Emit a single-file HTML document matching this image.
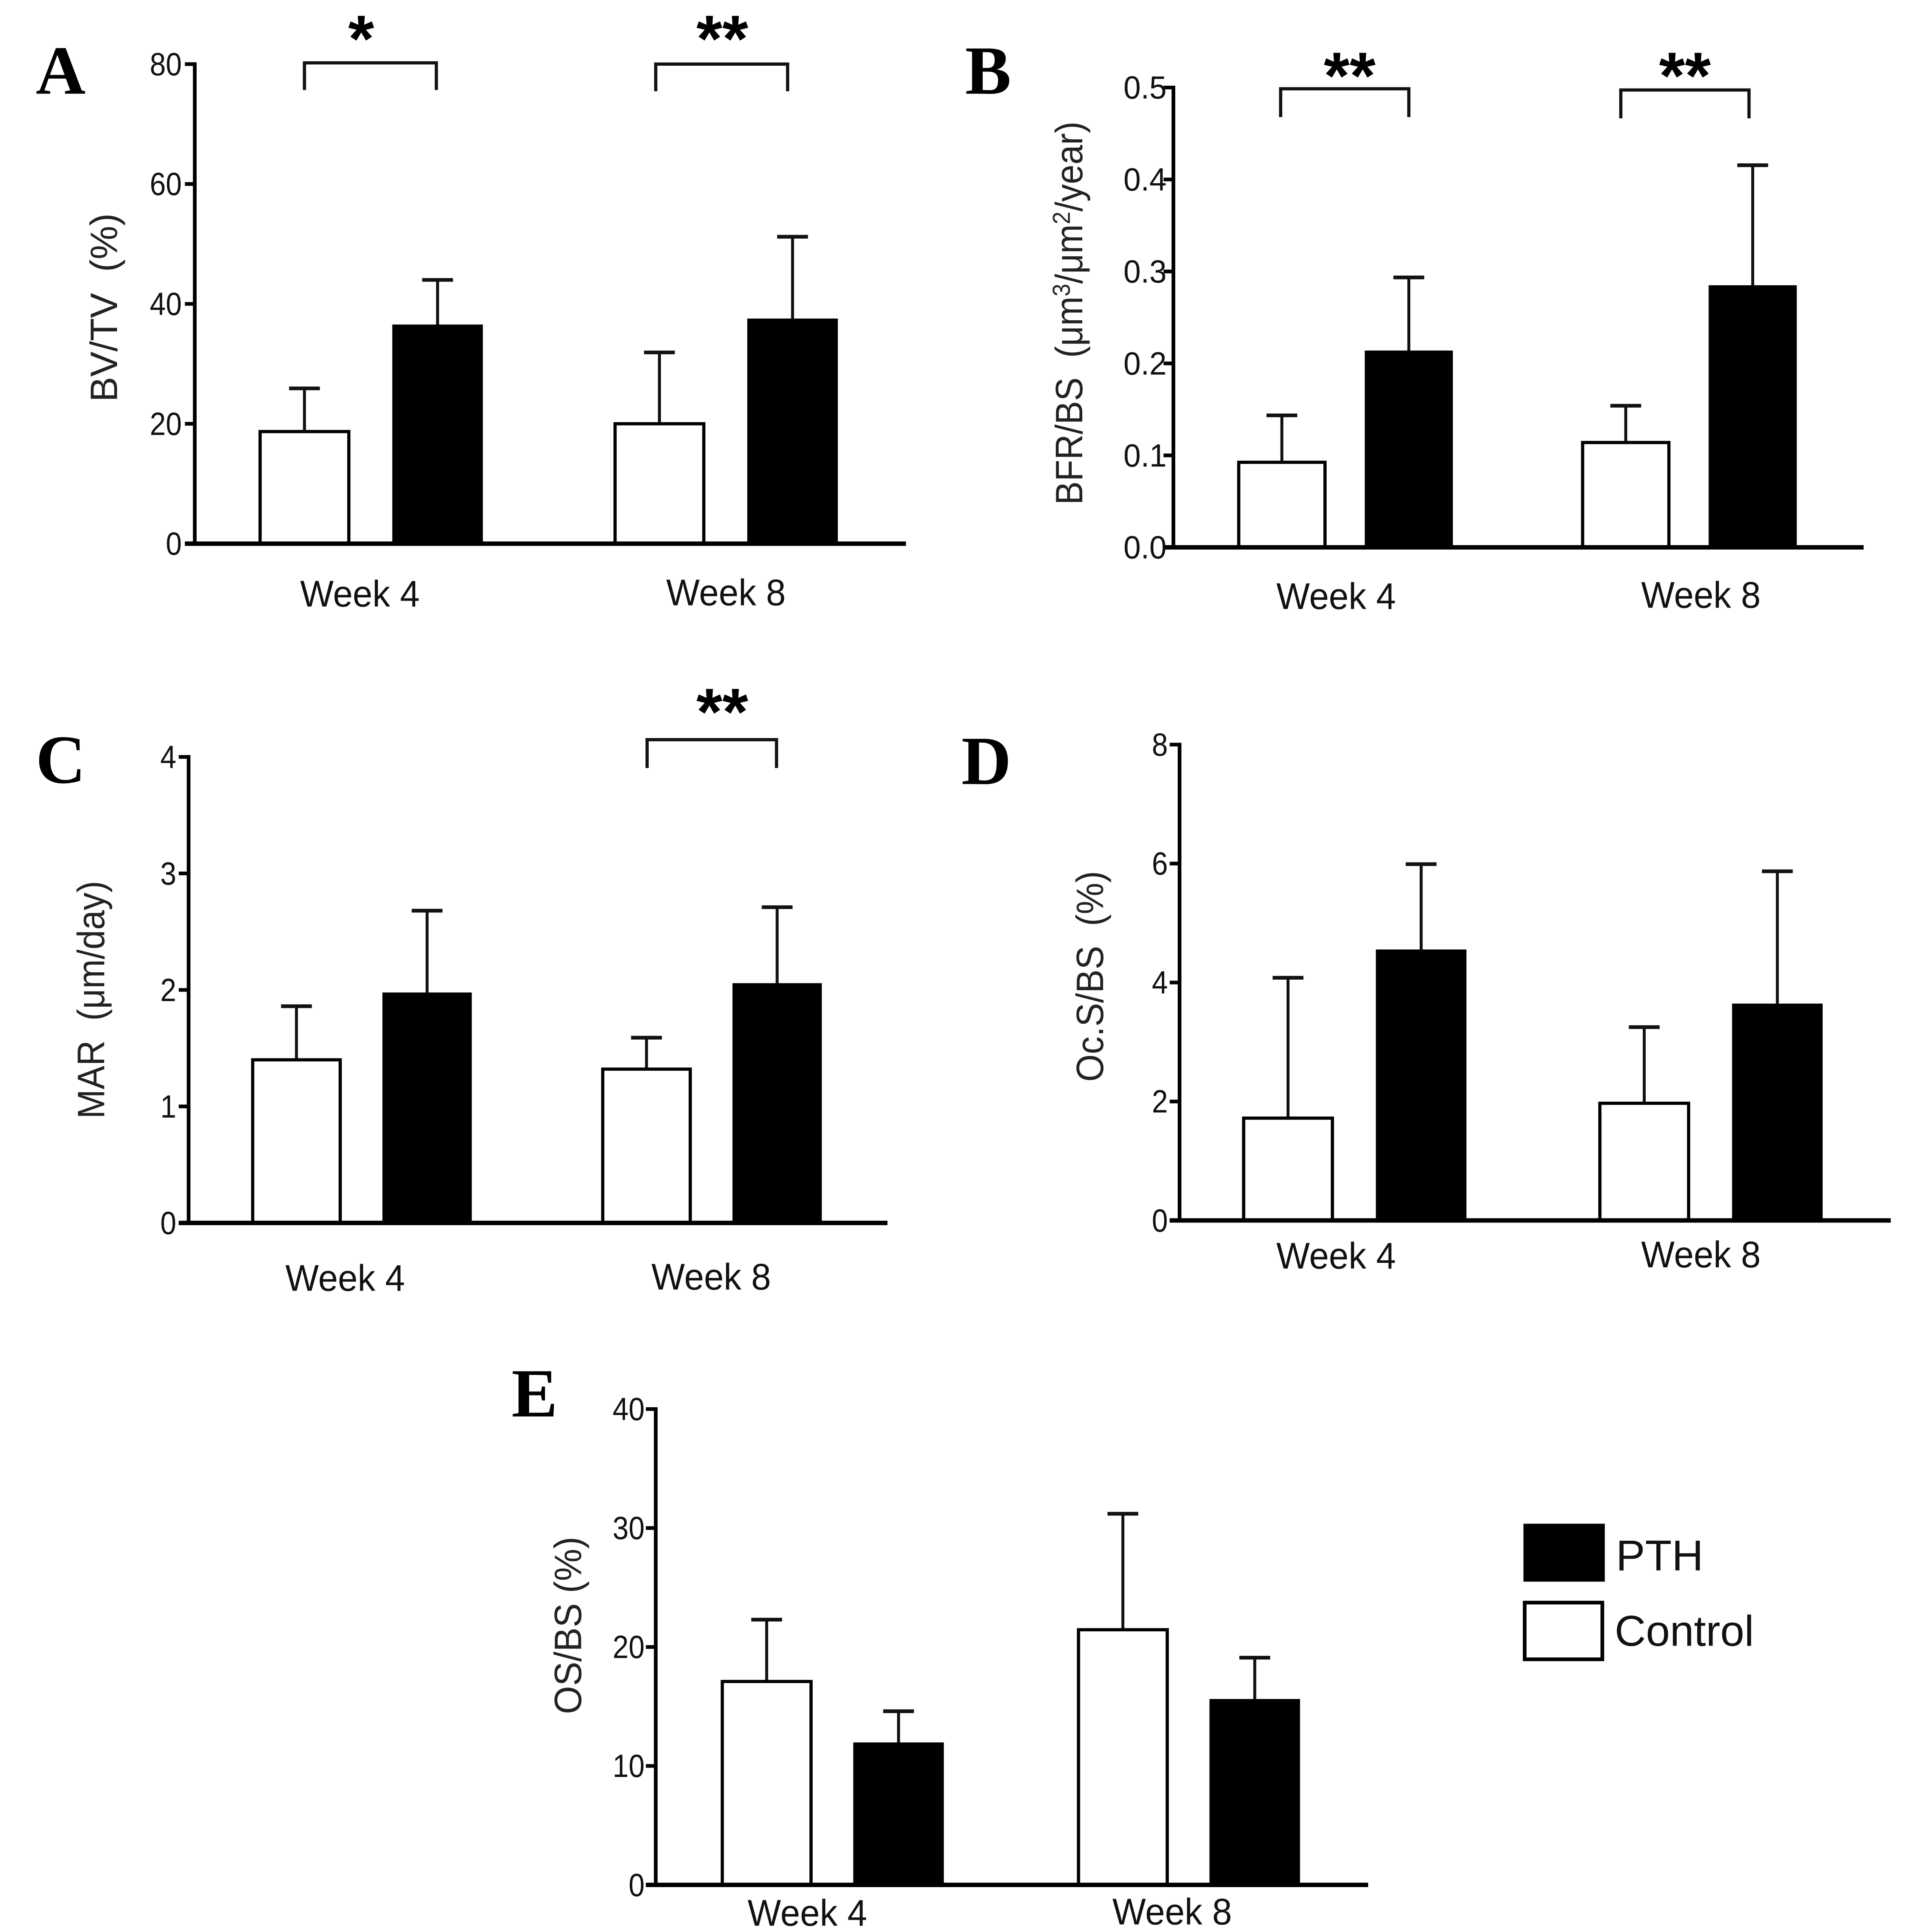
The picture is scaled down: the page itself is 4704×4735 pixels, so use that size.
<!DOCTYPE html>
<html lang="en">
<head>
<meta charset="utf-8">
<title>Bone histomorphometry bar charts</title>
<style>
html,body{margin:0;padding:0;background:#fff;width:4704px;height:4735px;overflow:hidden}
svg{display:block}
text{font-family:"Liberation Sans",sans-serif;fill:#111}
.letter{font-family:"Liberation Serif",serif;font-weight:bold;font-size:56px;fill:#000}
.star{font-size:54px;font-weight:bold;fill:#000;text-anchor:middle}
.title{font-size:31px;text-anchor:middle;fill:#222}
.legend{font-size:35px}
.br{fill:none;stroke:#111;stroke-width:2.6}
</style>
</head>
<body>
<svg id="figure" xmlns="http://www.w3.org/2000/svg" width="4704" height="4735" viewBox="0 0 1556.9 1567.2">
  <rect x="0" y="0" width="1556.9" height="1567.2" fill="#fff"/>

  <text class="letter" x="29" y="76">A</text>
  <text class="letter" x="783" y="76">B</text>
  <text class="letter" x="29" y="635">C</text>
  <text class="letter" x="780" y="636">D</text>
  <text class="letter" x="415" y="1149">E</text>

  <text class="title" transform="translate(95 249.5) rotate(-90)" textLength="153" lengthAdjust="spacingAndGlyphs" xml:space="preserve">BV/TV  (%)</text>
  <text class="title" transform="translate(878 254) rotate(-90)" textLength="311" lengthAdjust="spacingAndGlyphs" xml:space="preserve">BFR/BS  (μm<tspan font-size="20" dy="-10">3</tspan><tspan dy="10">/μm</tspan><tspan font-size="20" dy="-10">2</tspan><tspan dy="10">/year)</tspan></text>
  <text class="title" transform="translate(84.5 811) rotate(-90)" textLength="193" lengthAdjust="spacingAndGlyphs" xml:space="preserve">MAR  (μm/day)</text>
  <text class="title" transform="translate(895 792) rotate(-90)" textLength="171" lengthAdjust="spacingAndGlyphs" xml:space="preserve">Oc.S/BS  (%)</text>
  <text class="title" transform="translate(471.5 1318.5) rotate(-90)" textLength="144" lengthAdjust="spacingAndGlyphs" xml:space="preserve">OS/BS (%)</text>

  <path class="br" d="M247 73V51H354V73"/>
  <path class="br" d="M532 74V52H639V74"/>
  <path class="br" d="M1039 95V72H1143V95"/>
  <path class="br" d="M1315 96V73H1419V96"/>
  <path class="br" d="M525 623V600H630V623"/>

  <text class="star" x="293" y="50">*</text>
  <text class="star" x="586" y="50">**</text>
  <text class="star" x="1095" y="80">**</text>
  <text class="star" x="1367" y="80">**</text>
  <text class="star" x="586" y="596">**</text>

  <g>
    <rect x="1236" y="1236" width="66" height="47" fill="#000"/>
    <text class="legend" x="1311" y="1274" textLength="71" lengthAdjust="spacingAndGlyphs">PTH</text>
    <rect x="1237" y="1300" width="63" height="46" fill="#fff" stroke="#000" stroke-width="3"/>
    <text class="legend" x="1310" y="1335" textLength="113" lengthAdjust="spacingAndGlyphs">Control</text>
  </g>
</svg>

<script>
const categories = ['Week 4', 'Week 8'];

const ticksA = ['0', '20', '40', '60', '80'];
const controlA = [18.7, 20.0];
const pthA = [36.4, 37.4];
const controlErrA = [7.2, 11.9];
const pthErrA = [7.6, 13.8];

const ticksB = ['0.0', '0.1', '0.2', '0.3', '0.4', '0.5'];
const controlB = [0.0925, 0.114];
const pthB = [0.213, 0.284];
const controlErrB = [0.051, 0.040];
const pthErrB = [0.0805, 0.1315];

const ticksC = ['0', '1', '2', '3', '4'];
const controlC = [1.40, 1.32];
const pthC = [1.97, 2.05];
const controlErrC = [0.46, 0.27];
const pthErrC = [0.71, 0.66];

const ticksD = ['0', '2', '4', '6', '8'];
const controlD = [1.72, 1.97];
const pthD = [4.54, 3.63];
const controlErrD = [2.36, 1.28];
const pthErrD = [1.45, 2.24];

const ticksE = ['0', '10', '20', '30', '40'];
const controlE = [17.1, 21.45];
const pthE = [11.9, 15.55];
const controlErrE = [5.2, 9.75];
const pthErrE = [2.7, 3.55];

const SVG_NS = 'http://www.w3.org/2000/svg';
const figure = document.getElementById('figure');

function mk(parent, tag, attrs, name) {
  const el = document.createElementNS(SVG_NS, tag);
  for (const k in attrs) el.setAttribute(k, attrs[k]);
  
  
  parent.appendChild(el);
  return el;
}

function drawPanel(id, cfg, ticks, control, pth, controlErr, pthErr) {
  const g = mk(figure, 'g', {}, 'chart-panel-' + id);
  const tickValues = ticks.map(Number);
  const maxV = tickValues[tickValues.length - 1];
  const y = v => cfg.y0 - (v / maxV) * (cfg.y0 - cfg.yTop);
  const x = (group, series) => cfg.x0 + group * cfg.groupStep + series * cfg.barStep;

  const drawBar = (value, err, group, series, label) => {
    const left = x(group, series);
    const cx = left + cfg.barW / 2;
    const top = y(value);
    const errTop = y(value + err);
    mk(g, 'line', {x1: cx, x2: cx, y1: errTop, y2: top, stroke: '#111', 'stroke-width': 2.4}, 'error-bar-' + id + '-' + label + '-' + group);
    mk(g, 'line', {x1: cx - 12.5, x2: cx + 12.5, y1: errTop, y2: errTop, stroke: '#111', 'stroke-width': 3}, 'error-cap-' + id + '-' + label + '-' + group);
    const solid = series === 1;
    mk(g, 'rect', {
      x: left,
      y: top,
      width: cfg.barW,
      height: cfg.y0 - top,
      fill: solid ? '#000' : '#fff',
      stroke: '#000',
      'stroke-width': solid ? 1.5 : 2.6
    }, 'bar-' + id + '-' + label + '-' + group);
  };

  categories.forEach((cat, i) => {
    drawBar(control[i], controlErr[i], i, 0, 'control');
    drawBar(pth[i], pthErr[i], i, 1, 'pth');
    const lab = mk(g, 'text', {
      x: cfg.catX[i],
      y: cfg.catY[i],
      'font-size': 30,
      'text-anchor': 'middle',
      textLength: 97,
      lengthAdjust: 'spacingAndGlyphs'
    }, 'x-tick-label-' + id + '-' + i);
    lab.textContent = cat;
  });

  mk(g, 'line', {x1: cfg.axisX, x2: cfg.axisX, y1: cfg.yTop - 1.5, y2: cfg.y0, stroke: '#000', 'stroke-width': 3}, 'y-axis-' + id);
  mk(g, 'line', {x1: cfg.axisX - 8, x2: cfg.xEnd, y1: cfg.y0, y2: cfg.y0, stroke: '#000', 'stroke-width': 3.6}, 'x-axis-' + id);

  ticks.forEach((t, i) => {
    const ty = y(tickValues[i]);
    mk(g, 'line', {x1: cfg.axisX - 8, x2: cfg.axisX, y1: ty, y2: ty, stroke: '#000', 'stroke-width': 3}, 'y-tick-' + id + '-' + i);
    const lab = mk(g, 'text', {
      x: cfg.axisX - cfg.labelGap,
      y: ty + 9,
      'font-size': 26,
      'text-anchor': 'end',
      textLength: t.length === 3 ? 35 : (t.length === 2 ? 26 : 13),
      lengthAdjust: 'spacingAndGlyphs'
    }, 'y-tick-label-' + id + '-' + i);
    lab.textContent = t;
  });
}

drawPanel('a', {axisX: 158, xEnd: 735, y0: 441, yTop: 52, x0: 211, barW: 72, barStep: 108, groupStep: 288, labelGap: 10.5, catX: [292, 589], catY: [492, 491]}, ticksA, controlA, pthA, controlErrA, pthErrA);
drawPanel('b', {axisX: 952, xEnd: 1512, y0: 444, yTop: 71, x0: 1005, barW: 70, barStep: 103, groupStep: 279, labelGap: 5.5, catX: [1084, 1380], catY: [494, 493]}, ticksB, controlB, pthB, controlErrB, pthErrB);
drawPanel('c', {axisX: 153, xEnd: 720, y0: 992, yTop: 614, x0: 205, barW: 71, barStep: 106, groupStep: 284, labelGap: 10, catX: [280, 577], catY: [1047, 1046]}, ticksC, controlC, pthC, controlErrC, pthErrC);
drawPanel('d', {axisX: 957, xEnd: 1534, y0: 990, yTop: 604, x0: 1009, barW: 72, barStep: 108, groupStep: 289, labelGap: 9.5, catX: [1084, 1380], catY: [1029, 1028]}, ticksD, controlD, pthD, controlErrD, pthErrD);
drawPanel('e', {axisX: 532, xEnd: 1110, y0: 1529, yTop: 1143, x0: 586, barW: 72, barStep: 107, groupStep: 289, labelGap: 9, catX: [655, 951], catY: [1562, 1561]}, ticksE, controlE, pthE, controlErrE, pthErrE);
</script>
</body>
</html>
